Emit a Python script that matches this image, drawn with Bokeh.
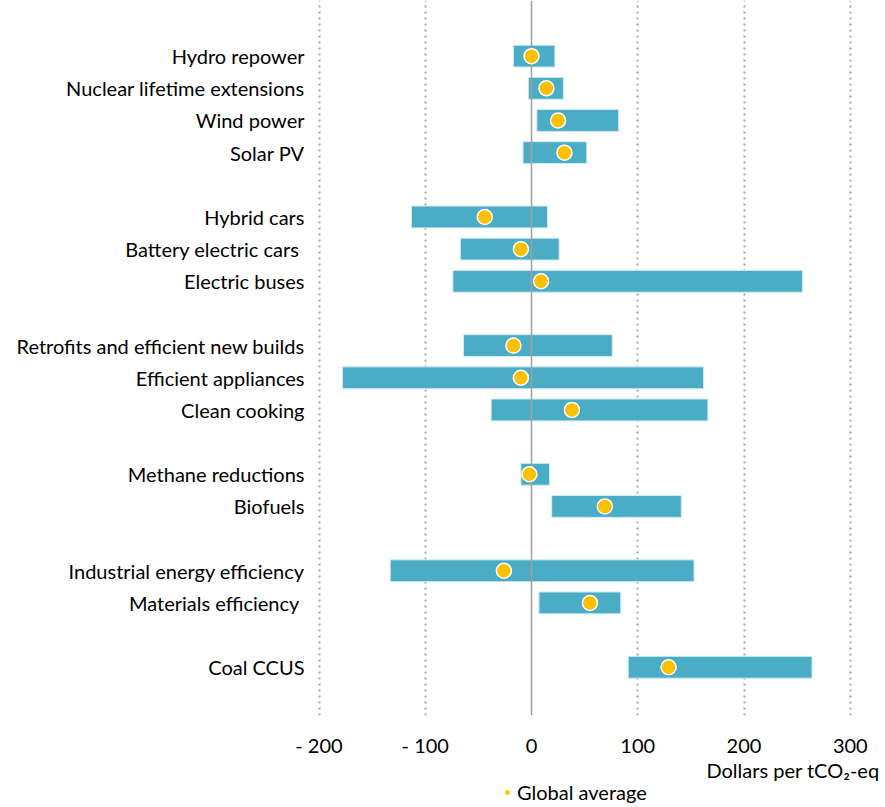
from bokeh.plotting import figure
from bokeh.layouts import column
from bokeh.models import (ColumnDataSource, Range1d, FixedTicker, Span, Legend, LegendItem, Label)
from bokeh.embed import file_html
from bokeh.resources import INLINE

# ---- data ----
categories = ["Hydro repower", "Nuclear lifetime extensions", "Wind power", "Solar PV",
              "Hybrid cars", "Battery electric cars ", "Electric buses",
              "Retrofits and efficient new builds", "Efficient appliances", "Clean cooking",
              "Methane reductions", "Biofuels",
              "Industrial energy efficiency", "Materials efficiency ",
              "Coal CCUS"]
group_sizes = [4, 3, 3, 2, 2, 1]
low_values = [-17, -3, 5, -8, -113, -67, -74, -64, -178, -38, -10, 19, -133, 7, 91]
high_values = [22, 30, 82, 52, 15, 26, 255, 76, 162, 166, 17, 141, 153, 84, 264]
global_average = [0, 14, 25, 31, -44, -10, 9, -17, -10, 38, -2, 69, -26, 55, 129]
x_ticks = [-200, -100, 0, 100, 200, 300]
x_tick_labels = ["- 200", "- 100", "0", "100", "200", "300"]
x_title = "Dollars per tCO\u2082-eq"
legend_label = "Global average"

# ---- positions (one empty slot between groups) ----
ypos = []
slot = 0
for g in group_sizes:
    for k in range(g):
        ypos.append(slot)
        slot += 1
    slot += 1
total = slot - 2
ypos = [total - v for v in ypos]

src = ColumnDataSource(dict(y=ypos, low=low_values, high=high_values,
                            avg=global_average, cat=categories))

FONT = "Lato"
FS = "20px"
frame_left = 310
frame_w = 569
frame_h = 715
BAR = "#4BACC6"
DOT = "#FFC000"

xr = Range1d(-208, 327.5)

p = figure(frame_width=frame_w, frame_height=frame_h, output_backend="svg",
           toolbar_location=None,
           x_range=xr, y_range=Range1d(-1.5, total + 1.73),
           min_border_left=frame_left, min_border_right=4,
           min_border_top=0, min_border_bottom=10)
p.outline_line_color = None
p.background_fill_color = "white"

# grid
p.ygrid.visible = False
p.xgrid.ticker = FixedTicker(ticks=[t for t in x_ticks if t != 0])
p.xgrid.grid_line_color = "#A6A6A6"
p.xgrid.grid_line_dash = "2 4"
p.xgrid.grid_line_width = 2

# bars
p.hbar(y="y", left="low", right="high", height=0.68, source=src,
       fill_color=BAR, line_color="#D3ECF2", line_width=1)

zero = Span(location=0, dimension="height", line_color="#A0A0A0", line_width=1.5)
p.add_layout(zero)

dots = p.scatter(x="avg", y="y", source=src, size=15, marker="circle",
                 fill_color=DOT, line_color="white", line_width=1.5)
dots.level = "overlay"

# axes
xa = p.xaxis[0]
xa.ticker = FixedTicker(ticks=x_ticks)
xa.major_label_overrides = {t: l for t, l in zip(x_ticks, x_tick_labels)}
xa.axis_line_color = None
xa.major_tick_line_color = None
xa.minor_tick_line_color = None
xa.major_tick_out = 0
xa.minor_tick_out = 0
xa.major_label_standoff = 17
xa.major_label_text_font = FONT
xa.major_label_text_font_size = FS
xa.major_label_text_color = "#000000"

ya = p.yaxis[0]
ya.ticker = FixedTicker(ticks=ypos)
ya.major_label_overrides = {y: c for y, c in zip(ypos, categories)}
ya.axis_line_color = None
ya.major_tick_line_color = None
ya.minor_tick_line_color = None
ya.major_tick_out = 0
ya.minor_tick_out = 0
ya.major_label_standoff = 6
ya.major_label_text_font = FONT
ya.major_label_text_font_size = FS
ya.major_label_text_color = "#000000"

# ---- footer strip: axis title and legend ----
foot_h = 46
p2 = figure(frame_width=frame_w, frame_height=foot_h, output_backend="svg",
            toolbar_location=None, x_range=xr, y_range=Range1d(0, foot_h),
            x_axis_type=None, y_axis_type=None,
            min_border_left=frame_left, min_border_right=4,
            min_border_top=0, min_border_bottom=0)
p2.outline_line_color = None
p2.grid.visible = False
p2.background_fill_color = "white"

title = Label(x=xr.end, y=foot_h - 10, text=x_title, text_align="right",
              text_baseline="middle", text_font=FONT, text_font_size=FS,
              text_color="#000000")
p2.add_layout(title)

# legend proxy point sits below the strip's visible range
leg_src = ColumnDataSource(dict(x=[global_average[0]], y=[-foot_h]))
leg_r = p2.scatter(x="x", y="y", source=leg_src, size=11, marker="circle",
                   fill_color=DOT, line_color=DOT, line_width=0)
legend = Legend(items=[LegendItem(label=legend_label, renderers=[leg_r])],
                orientation="horizontal", location=(191, 1),
                border_line_color=None, background_fill_alpha=0,
                label_text_font=FONT, label_text_font_size=FS,
                label_text_color="#000000",
                glyph_width=12, glyph_height=12, label_standoff=4,
                padding=0, margin=0, spacing=0)
p2.add_layout(legend)

layout = column(p, p2, spacing=0)
open("out.html", "w").write(file_html(layout, INLINE))
